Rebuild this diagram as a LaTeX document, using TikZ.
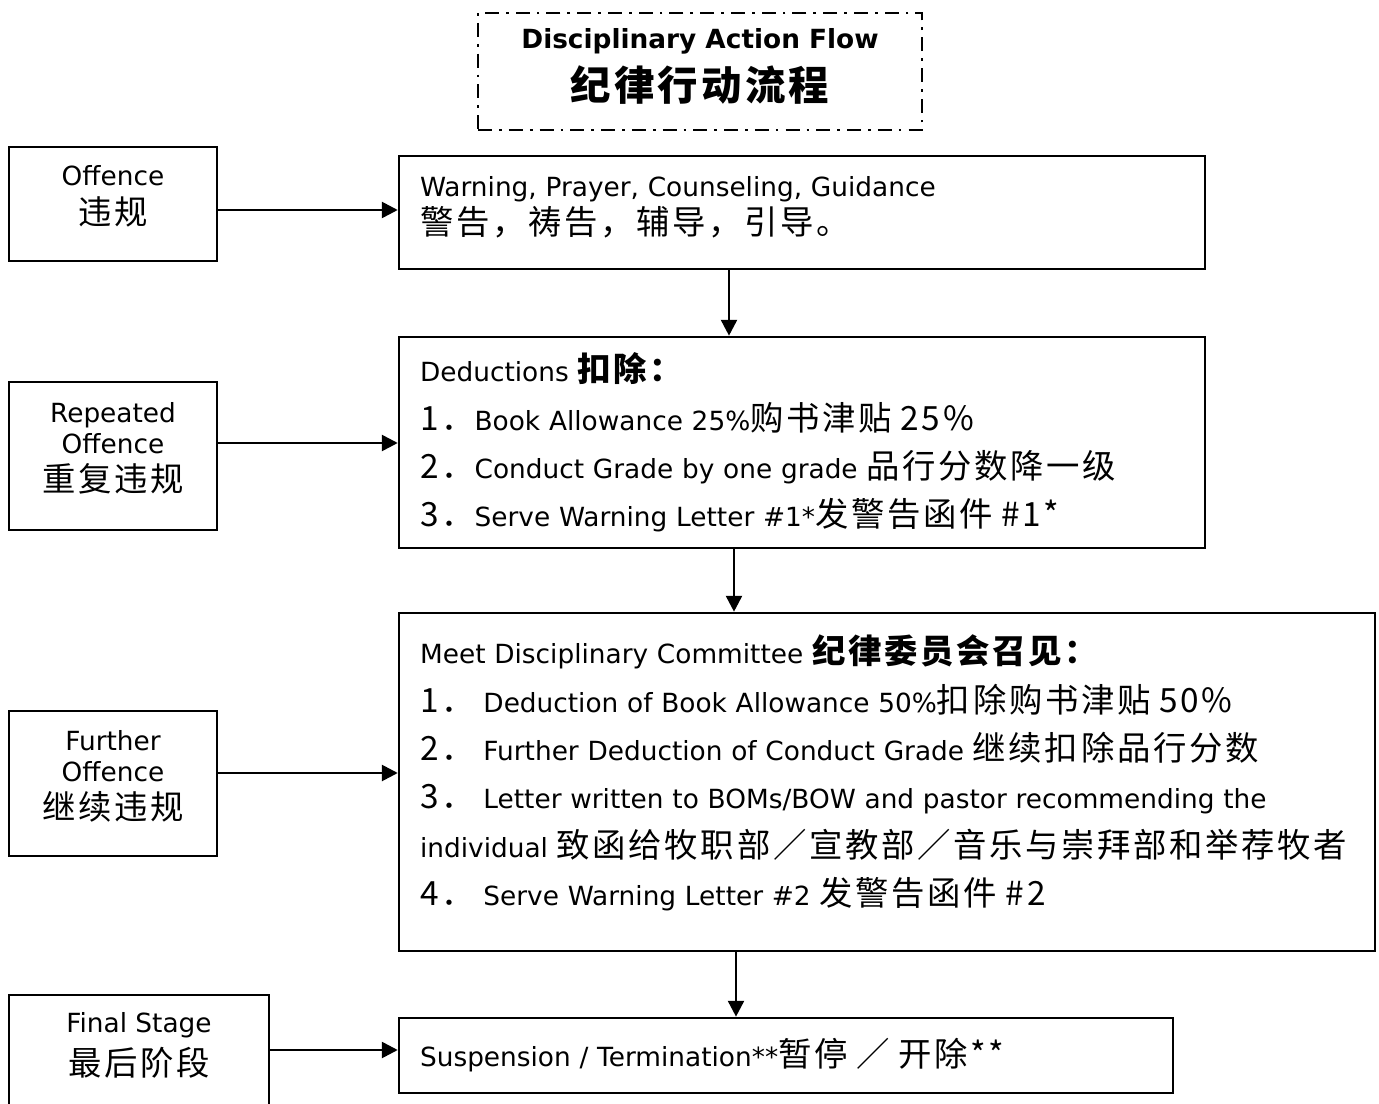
\documentclass[tikz,border=0pt]{standalone}
\usepackage{fontspec}
\setmainfont{DejaVu Sans}
\newfontfamily\cjk[LetterSpace=8]{Noto Sans CJK SC}
\usetikzlibrary{arrows.meta}

\begin{document}
\begin{tikzpicture}[x=0.02cm, y=-0.02cm]
	\tikzset{flbox/.style={draw, line width=1.5pt, inner sep=0pt, align=center, text depth=10pt,
				minimum width=4.16cm, font=\fontsize{15}{17.6}\selectfont}}
	\tikzset{flstep/.style={draw, line width=1.5pt, inner xsep=0.42cm, inner ysep=0pt,
				align=left, font=\fontsize{15}{27.5}\selectfont}}
	\tikzset{fltitle/.style={draw, line width=1.2pt, dash pattern=on 8pt off 4pt on 1.5pt off 4pt,
				minimum width=8.88cm, minimum height=2.34cm, align=center, font=\fontsize{15}{24}\selectfont}}
	\tikzset{flarrow/.style={line width=1.5pt, -{Triangle[length=9pt, width=9pt]}}}

	\clip (0,0) rectangle (1379,1104);

	% title
	\node[fltitle, text depth=8pt] (ttl) at (700,71.5) {\textbf{Disciplinary Action Flow}\\[6pt]
		{\cjk\bfseries\fontsize{23}{24}\selectfont 纪律行动流程}};

	% left column
	\node[flbox, minimum height=2.28cm] (off) at (113,204) {Offence\\[4.4pt]{\cjk\fontsize{19}{20}\selectfont 违规}};
	\node[flbox, minimum height=2.96cm] (rep) at (113,456) {Repeated\\Offence\\[4pt]{\cjk\fontsize{19}{20}\selectfont 重复违规}};
	\node[flbox, minimum height=2.9cm] (fur) at (113,783.5) {Further\\Offence\\[4pt]{\cjk\fontsize{19}{20}\selectfont 继续违规}};
	\node[flbox, minimum width=5.2cm, minimum height=2.3cm] (fin) at (139,1052.5) {Final Stage\\[4.4pt]{\cjk\fontsize{19}{20}\selectfont 最后阶段}};

	% right column
	\node[flstep, text width=15.28cm, minimum height=2.26cm, text depth=30pt, font=\fontsize{15}{22}\selectfont] (warn) at (802,212.5)
		{Warning, Prayer, Counseling, Guidance\\{\cjk\fontsize{19}{22}\selectfont 警告，祷告，辅导，引导。}};
	\node[flstep, text width=15.28cm, minimum height=4.22cm] (ded) at (802,442.5)
		{Deductions {\cjk\bfseries\fontsize{19}{20}\selectfont 扣除：}\\
		{\cjk\fontsize{19}{20}\selectfont 1．}Book Allowance 25\%{\cjk\fontsize{19}{20}\selectfont 购书津贴 25\%}\\
		{\cjk\fontsize{19}{20}\selectfont 2．}Conduct Grade by one grade {\cjk\fontsize{19}{20}\selectfont 品行分数降一级}\\
		{\cjk\fontsize{19}{20}\selectfont 3．}Serve Warning Letter \#1*{\cjk\fontsize{19}{20}\selectfont 发警告函件 \#1*}};
	\node[flstep, text width=18.68cm, minimum height=6.76cm, text depth=151pt] (meet) at (887,782)
		{Meet Disciplinary Committee {\cjk\bfseries\fontsize{19}{20}\selectfont 纪律委员会召见：}\\
		{\cjk\fontsize{19}{20}\selectfont 1．} Deduction of Book Allowance 50\%{\cjk\fontsize{19}{20}\selectfont 扣除购书津贴 50\%}\\
		{\cjk\fontsize{19}{20}\selectfont 2．} Further Deduction of Conduct Grade {\cjk\fontsize{19}{20}\selectfont 继续扣除品行分数}\\
		{\cjk\fontsize{19}{20}\selectfont 3．} Letter written to BOMs/BOW and pastor recommending the\\
		individual {\cjk\fontsize{19}{20}\selectfont 致函给牧职部／宣教部／音乐与崇拜部和举荐牧者}\\
		{\cjk\fontsize{19}{20}\selectfont 4．} Serve Warning Letter \#2 {\cjk\fontsize{19}{20}\selectfont 发警告函件 \#2}};
	\node[flstep, text width=14.64cm, minimum height=1.5cm] (susp) at (786,1055.5)
		{Suspension / Termination**{\cjk\fontsize{19}{20}\selectfont 暂停 ／ 开除**}};

	% arrows
	\coordinate (r1) at (0,210);
	\coordinate (r2) at (0,443);
	\coordinate (r3) at (0,773);
	\coordinate (r4) at (0,1050);
	\coordinate (c1) at (729,0);
	\coordinate (c2) at (734,0);
	\coordinate (c3) at (736,0);

	\draw[flarrow] (off.east |- r1) -- (warn.west |- r1);
	\draw[flarrow] (rep.east |- r2) -- (ded.west |- r2);
	\draw[flarrow] (fur.east |- r3) -- (meet.west |- r3);
	\draw[flarrow] (fin.east |- r4) -- (susp.west |- r4);
	\draw[flarrow] (c1 |- warn.south) -- (c1 |- ded.north);
	\draw[flarrow] (c2 |- ded.south) -- (c2 |- meet.north);
	\draw[flarrow] (c3 |- meet.south) -- (c3 |- susp.north);
\end{tikzpicture}
\end{document}
